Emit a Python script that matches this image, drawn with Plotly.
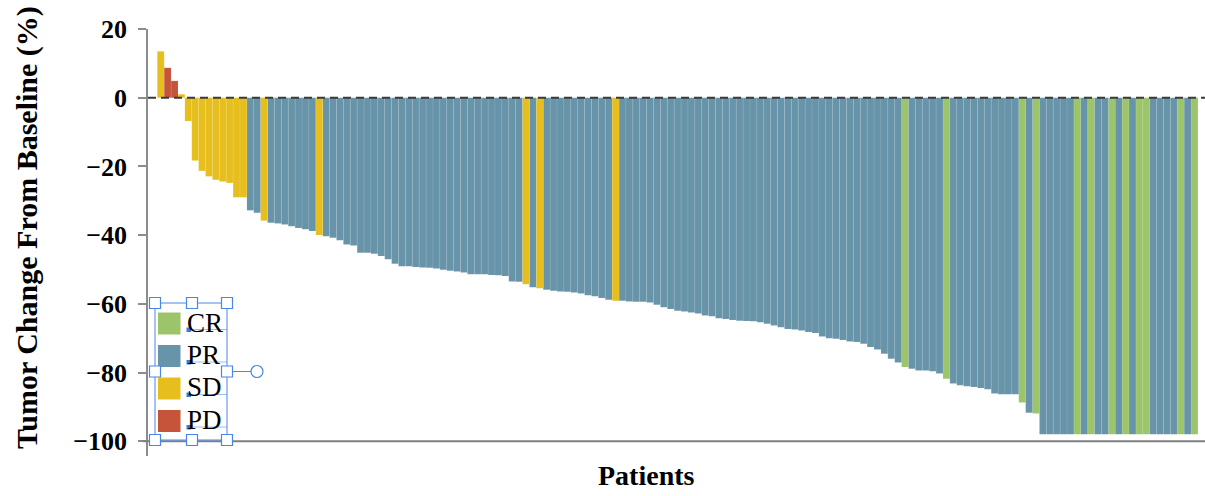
import plotly.graph_objects as go

# ---------------- data ----------------
tumor_change = [
    13.5, 8.7, 4.9, 1.0, -6.8, -18.3, -21.3, -22.9, -23.9, -24.4,
    -24.8, -29.0, -29.0, -32.8, -33.5, -35.8, -36.4, -36.6, -36.9, -37.4,
    -37.9, -38.3, -38.8, -40.0, -40.3, -40.8, -41.5, -42.7, -43.0, -45.1,
    -45.1, -45.4, -46.1, -47.0, -48.3, -49.1, -49.1, -49.3, -49.4, -49.5,
    -49.7, -50.1, -50.4, -50.6, -50.9, -51.4, -51.4, -51.4, -51.6, -51.7,
    -51.9, -53.5, -53.6, -54.3, -55.2, -55.5, -55.9, -56.2, -56.4, -56.5,
    -56.7, -57.0, -57.5, -57.8, -58.3, -58.8, -59.1, -59.1, -59.3, -59.4,
    -59.4, -59.6, -60.3, -61.0, -61.5, -62.0, -62.2, -62.5, -62.8, -63.4,
    -63.6, -64.2, -64.4, -64.7, -64.9, -65.0, -65.1, -65.4, -65.8, -66.3,
    -66.8, -67.3, -67.5, -67.8, -68.2, -68.5, -69.5, -70.0, -70.2, -70.5,
    -71.0, -71.1, -71.6, -72.6, -73.3, -74.5, -76.0, -77.1, -78.4, -78.9,
    -79.4, -79.4, -79.6, -80.3, -81.8, -83.2, -83.7, -84.0, -84.2, -84.5,
    -84.9, -86.1, -86.3, -86.3, -86.3, -88.7, -91.7, -91.9, -98.0, -98.0,
    -98.0, -98.0, -98.0, -98.0, -98.0, -98.0, -98.0, -98.0, -98.0, -98.0,
    -98.0, -98.0, -98.0, -98.0, -98.0, -98.0, -98.0, -98.0, -98.0, -98.0,
    -98.0,
]

response = [
    "SD", "PD", "PD", "SD", "SD", "SD", "SD", "SD", "SD", "SD",
    "SD", "SD", "SD", "PR", "PR", "SD", "PR", "PR", "PR", "PR",
    "PR", "PR", "PR", "SD", "PR", "PR", "PR", "PR", "PR", "PR",
    "PR", "PR", "PR", "PR", "PR", "PR", "PR", "PR", "PR", "PR",
    "PR", "PR", "PR", "PR", "PR", "PR", "PR", "PR", "PR", "PR",
    "PR", "PR", "PR", "SD", "PR", "SD", "PR", "PR", "PR", "PR",
    "PR", "PR", "PR", "PR", "PR", "PR", "SD", "PR", "PR", "PR",
    "PR", "PR", "PR", "PR", "PR", "PR", "PR", "PR", "PR", "PR",
    "PR", "PR", "PR", "PR", "PR", "PR", "PR", "PR", "PR", "PR",
    "PR", "PR", "PR", "PR", "PR", "PR", "PR", "PR", "PR", "PR",
    "PR", "PR", "PR", "PR", "PR", "PR", "PR", "PR", "CR", "PR",
    "PR", "PR", "PR", "PR", "CR", "PR", "PR", "PR", "PR", "PR",
    "PR", "PR", "PR", "PR", "PR", "CR", "PR", "CR", "PR", "PR",
    "PR", "PR", "PR", "CR", "PR", "CR", "PR", "PR", "CR", "PR",
    "CR", "PR", "CR", "CR", "PR", "PR", "PR", "PR", "CR", "PR",
    "CR",
]

patients = list(range(1, len(tumor_change) + 1))

categories = ["CR", "PR", "SD", "PD"]
colors = {"CR": "#9CC56A", "PR": "#6894A9", "SD": "#E6BF1F", "PD": "#C5543A"}
y_ticks = [20, 0, -20, -40, -60, -80, -100]
y_tick_text = ["20", "0", "\u221220", "\u221240", "\u221260", "\u221280", "\u2212100"]

# ---------------- figure ----------------
W, H = 1205, 496
ML, MR, MT, MB = 148, 0, 29, 40
PW, PH = W - ML - MR, H - MT - MB

def px2x(px):
    return (px - ML) / PW

def px2y(py):
    return (H - MB - py) / PH

SERIF = "Liberation Serif, Times New Roman, serif"

fig = go.Figure()
for cat in categories:
    xs = [p for p, r in zip(patients, response) if r == cat]
    ys = [v for v, r in zip(tumor_change, response) if r == cat]
    fig.add_trace(go.Bar(
        x=xs, y=ys, name=cat, width=1,
        marker=dict(color=colors[cat],
                    line=dict(color="rgba(255,255,255,0.16)", width=0.5)),
        showlegend=False,
    ))

shapes = []
# zero reference line (dashed)
shapes.append(dict(type="line", xref="paper", yref="y", x0=0, x1=1, y0=0, y1=0,
                   line=dict(color="#3a3a3a", width=2, dash="8px,5px"), layer="above"))
# x axis baseline at -100
shapes.append(dict(type="line", xref="paper", yref="y", x0=px2x(143), x1=1,
                   y0=-100, y1=-100, line=dict(color="#7f7f7f", width=2)))

annotations = []
# custom legend
sq_tops = [312.5, 345, 377.5, 410]
for cat, top in zip(categories, sq_tops):
    shapes.append(dict(type="rect", xref="paper", yref="paper",
                       x0=px2x(158), x1=px2x(180.5), y0=px2y(top + 22), y1=px2y(top),
                       fillcolor=colors[cat], line=dict(width=0)))
    annotations.append(dict(text=cat, xref="paper", yref="paper",
                            x=px2x(185), y=px2y(top + 10), xanchor="left", yanchor="middle",
                            showarrow=False, font=dict(family=SERIF, size=27, color="black")))
    # editor text-frame markers
    shapes.append(dict(type="line", xref="paper", yref="paper",
                       x0=px2x(189), x1=px2x(227), y0=px2y(top + 17), y1=px2y(top + 17),
                       line=dict(color="rgba(74,134,232,0.55)", width=1)))
    shapes.append(dict(type="rect", xref="paper", yref="paper",
                       x0=px2x(186.5), x1=px2x(191), y0=px2y(top + 19.5), y1=px2y(top + 15),
                       fillcolor="#3B78E7", line=dict(width=0)))

# selection box around legend (as in the reference screenshot)
BLUE = "#4A86E8"
shapes.append(dict(type="rect", xref="paper", yref="paper",
                   x0=px2x(155), x1=px2x(227), y0=px2y(440), y1=px2y(303),
                   line=dict(color=BLUE, width=1)))
shapes.append(dict(type="line", xref="paper", yref="paper",
                   x0=px2x(227), x1=px2x(251), y0=px2y(371.5), y1=px2y(371.5),
                   line=dict(color=BLUE, width=1)))
shapes.append(dict(type="circle", xref="paper", yref="paper",
                   x0=px2x(251), x1=px2x(263), y0=px2y(377.5), y1=px2y(365.5),
                   fillcolor="white", line=dict(color=BLUE, width=1.2)))
for hx, hy in [(155, 303), (192, 303), (227, 303), (155, 371.5), (227, 371.5),
               (155, 440), (192, 440), (227, 440)]:
    shapes.append(dict(type="rect", xref="paper", yref="paper",
                       x0=px2x(hx - 5.5), x1=px2x(hx + 5.5), y0=px2y(hy + 5.5), y1=px2y(hy - 5.5),
                       fillcolor="white", line=dict(color=BLUE, width=1.2)))

# axis titles
annotations.append(dict(text="<b>Tumor Change From Baseline (%)</b>", xref="paper", yref="paper",
                        x=px2x(27), y=px2y(228), xanchor="center", yanchor="middle",
                        textangle=-90, showarrow=False,
                        font=dict(family=SERIF, size=30, color="black")))
annotations.append(dict(text="<b>Patients</b>", xref="paper", yref="paper",
                        x=px2x(646), y=px2y(475), xanchor="center", yanchor="middle",
                        showarrow=False, font=dict(family=SERIF, size=28, color="black")))

fig.update_layout(
    width=W, height=H,
    margin=dict(l=ML, r=MR, t=MT, b=MB, pad=0),
    paper_bgcolor="white", plot_bgcolor="white",
    barmode="overlay",
    showlegend=False,
    shapes=shapes,
    annotations=annotations,
    xaxis=dict(range=[patients[0] - 1.85, patients[-1] + 1.52], visible=False,
               showgrid=False, zeroline=False),
    yaxis=dict(range=[-104.3, 20], tickvals=y_ticks, ticktext=y_tick_text,
               ticks="outside", ticklen=8, tickwidth=1.5, tickcolor="#8c8c8c",
               showline=True, linecolor="#8c8c8c", linewidth=1.5,
               showgrid=False, zeroline=False, ticklabelstandoff=6,
               tickfont=dict(family=SERIF, size=26, color="black", weight="bold")),
)

fig.write_html("out.html",
               config={"displayModeBar": False},
               post_script="document.body.style.margin='0';document.body.style.overflow='hidden';")
